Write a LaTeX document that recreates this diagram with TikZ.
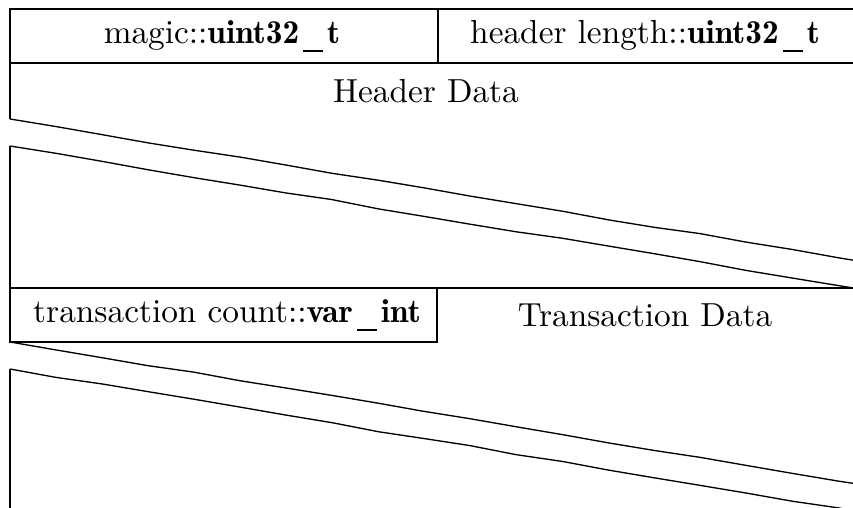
\documentclass[tikz,border=0pt]{standalone}
\usetikzlibrary{decorations.pathmorphing}
\newcommand\typ[1]{{\fontseries{b}\selectfont #1}}
\newcommand\us{\kern1.2pt\rule[-2.5pt]{6pt}{0.45pt}\kern1.2pt}
\begin{document}
\begin{tikzpicture}[x=0.3pt,y=-0.3pt,line width=0.4pt,
  lbl/.style={inner sep=0pt,anchor=center},
  brk/.style={decorate,decoration={random steps,segment length=14pt,amplitude=0.25pt}}]
\useasboundingbox (0,0) rectangle (853,508);
\clip (0,0) rectangle (853,508);
% top row
\draw (10,9) rectangle (438,63);
\draw (438,9) rectangle (870,63);
\node[lbl] (magic) at (222,36) {magic::\typ{uint32\us t}};
\node[lbl] (hlen) at (645,36) {header length::\typ{uint32\us t}};
% header data
\draw (10,63) -- (10,119);
\node[lbl] (hdata) at (426,91) {Header Data};
\draw[brk] (10,119) -- (870,262.9);
\draw[brk] (10,146) -- (853,288);
\draw (10,146) -- (10,288);
% transaction row
\draw (10,288) -- (870,288);
\draw (10,288) rectangle (437,342);
\node[lbl] (tcount) at (227,315) {transaction count::\typ{var\us int}};
\node[lbl] (tdata) at (645,315) {Transaction Data};
\draw[brk] (10,342) -- (870,485.9);
\draw[brk] (10,369) -- (880,515.5);
\draw (10,369) -- (10,520);
\end{tikzpicture}
\end{document}
